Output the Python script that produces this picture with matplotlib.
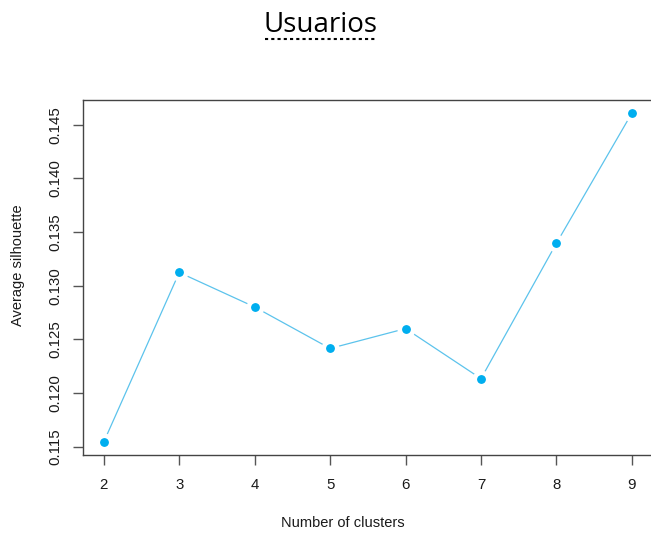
import numpy as np
import matplotlib.pyplot as plt
from matplotlib.lines import Line2D

plt.rcParams['font.family'] = ['Liberation Sans', 'DejaVu Sans']

clusters = [2, 3, 4, 5, 6, 7, 8, 9]
silhouette = [0.11546, 0.13124, 0.12802, 0.12416, 0.12601, 0.12135, 0.13396, 0.14608]
yticks = [0.115, 0.120, 0.125, 0.130, 0.135, 0.140, 0.145]

W, H = 651, 533
fig = plt.figure(figsize=(W / 100, H / 100), dpi=100)
ax = fig.add_axes([82.7 / W, 78 / H, (653 - 82.7) / W, 355 / H])

line_col = '#5cc3ec'
pt_col = '#00aeef'
ax.plot(clusters, silhouette, color=line_col, lw=0.9, zorder=2)
ax.plot(clusters, silhouette, 'o', color=pt_col, ms=9.7, mec='white', mew=3.3, zorder=3)

# R style: 4% padding each side
xr = max(clusters) - min(clusters)
yr = max(silhouette) - min(silhouette)
ax.set_xlim(min(clusters) - 0.04 * xr, max(clusters) + 0.04 * xr)
ax.set_ylim(min(silhouette) - 0.04 * yr, max(silhouette) + 0.04 * yr)

ax.set_xticks(clusters)
ax.set_yticks(yticks)
ax.set_xticklabels([str(c) for c in clusters])
ax.set_yticklabels(['%.3f' % t for t in yticks], rotation=90, va='center')
ax.tick_params(axis='both', length=7.2, width=1.0, color='#555555',
               labelsize=10.8, labelcolor='#1a1a1a')
ax.tick_params(axis='x', pad=9.5)
ax.tick_params(axis='y', pad=7.5)
for s in ax.spines.values():
    s.set_color('#444444')
    s.set_linewidth(1.0)

fig.text(343 / W, 1 - 523 / H, 'Number of clusters', ha='center', va='center',
         fontsize=10.5, color='#1a1a1a')
fig.text(18 / W, 1 - 265 / H, 'Average silhouette', ha='center', va='center',
         rotation=90, fontsize=10.5, color='#1a1a1a')

# title with dotted underline
fig.text(320.5 / W, 1 - 32 / H, 'Usuarios', ha='center', va='baseline',
         fontsize=20, family=['Open Sans', 'DejaVu Sans'], color='black')
fig.add_artist(Line2D([265 / W, 376 / W], [1 - 39 / H, 1 - 39 / H],
                      transform=fig.transFigure, color='black', lw=1.5,
                      linestyle=(0, (1.5, 1.5))))

fig.savefig('out.png', dpi=100)
